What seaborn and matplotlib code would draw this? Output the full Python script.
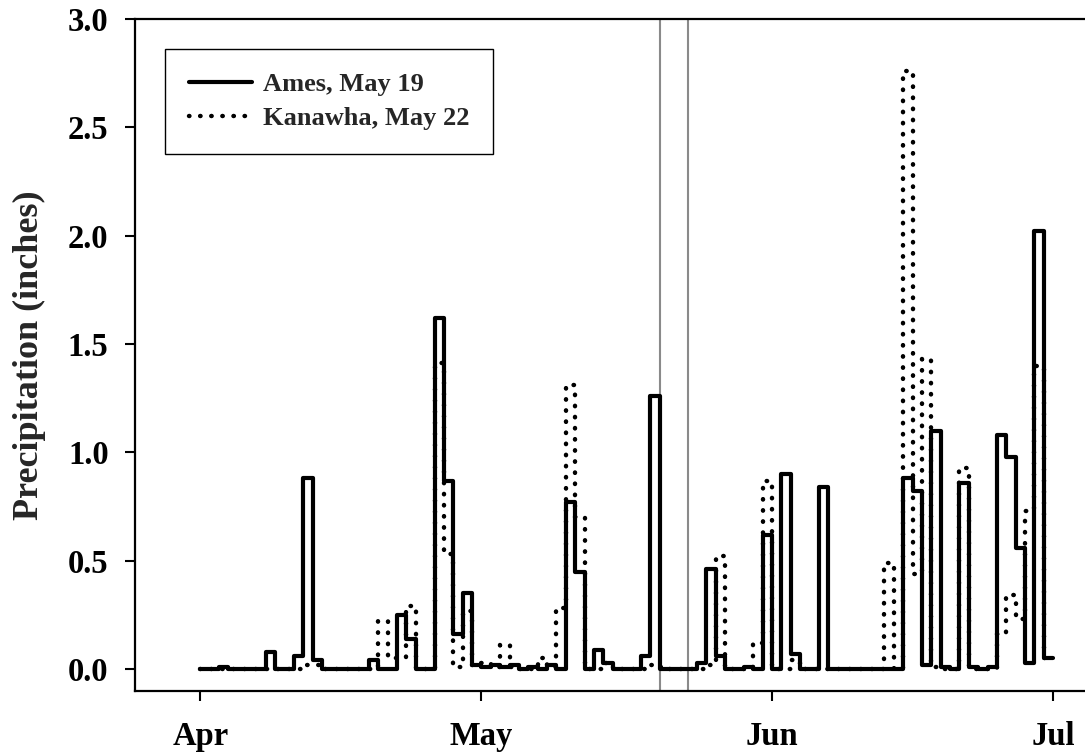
import pandas as pd
import seaborn as sns
import matplotlib.pyplot as plt
import matplotlib.dates as mdates

# Daily precipitation (inches), 1 Apr - 30 Jun
dates = pd.date_range('2008-04-01', '2008-06-30', freq='D')
ames = [0.00, 0.00, 0.01, 0.00, 0.00, 0.00, 0.00, 0.08, 0.00, 0.00,
        0.06, 0.88, 0.04, 0.00, 0.00, 0.00, 0.00, 0.00, 0.04, 0.00,
        0.00, 0.25, 0.14, 0.00, 0.00, 1.62, 0.87, 0.16, 0.35, 0.02,
        0.01, 0.02, 0.01, 0.02, 0.00, 0.01, 0.00, 0.02, 0.00, 0.77,
        0.45, 0.00, 0.09, 0.03, 0.00, 0.00, 0.00, 0.06, 1.26, 0.00,
        0.00, 0.00, 0.00, 0.03, 0.46, 0.06, 0.00, 0.00, 0.01, 0.00,
        0.62, 0.00, 0.90, 0.07, 0.00, 0.00, 0.84, 0.00, 0.00, 0.00,
        0.00, 0.00, 0.00, 0.00, 0.00, 0.88, 0.82, 0.02, 1.10, 0.01,
        0.00, 0.86, 0.01, 0.00, 0.01, 1.08, 0.98, 0.56, 0.03, 2.02,
        0.05]
kanawha = [0.00, 0.00, 0.00, 0.00, 0.00, 0.00, 0.00, 0.00, 0.00, 0.00,
           0.00, 0.02, 0.02, 0.00, 0.00, 0.00, 0.00, 0.00, 0.00, 0.22,
           0.05, 0.05, 0.29, 0.00, 0.00, 1.41, 0.53, 0.01, 0.27, 0.02,
           0.03, 0.01, 0.11, 0.01, 0.00, 0.00, 0.05, 0.01, 0.28, 1.31,
           0.70, 0.00, 0.00, 0.03, 0.00, 0.00, 0.00, 0.00, 0.02, 0.01,
           0.00, 0.00, 0.00, 0.00, 0.02, 0.52, 0.00, 0.00, 0.00, 0.12,
           0.87, 0.00, 0.00, 0.04, 0.00, 0.00, 0.00, 0.00, 0.00, 0.00,
           0.00, 0.00, 0.00, 0.49, 0.00, 2.76, 0.44, 1.43, 0.01, 0.00,
           0.00, 0.93, 0.00, 0.00, 0.00, 0.16, 0.34, 0.23, 0.73, 1.40,
           0.05]
sites = ['Ames, May 19', 'Kanawha, May 22']
planting = ['2008-05-19', '2008-05-22']
month_ticks = ['2008-04-01', '2008-05-01', '2008-06-01', '2008-07-01']

sns.set_style('ticks')
plt.rcParams['font.family'] = ['Liberation Serif', 'DejaVu Serif']
plt.rcParams['font.weight'] = 'bold'

# steps-post needs one extra point so the last day gets its full width
end = dates[-1] + pd.Timedelta(days=1)
df = pd.DataFrame({'date': list(dates) + [end],
                   'Ames': ames + [ames[-1]],
                   'Kanawha': kanawha + [kanawha[-1]]})

fig = plt.figure(figsize=(10.85, 7.56), dpi=100)
ax = fig.add_axes([0.1244, 0.0864, 0.8756, 0.8885])

sns.lineplot(data=df, x='date', y='Ames', ax=ax, color='black', lw=3,
             drawstyle='steps-post', label=sites[0], zorder=3)
sns.lineplot(data=df, x='date', y='Kanawha', ax=ax, color='black', lw=3.2,
             linestyle=(0, (0.1, 2.4)), dash_capstyle='round',
             drawstyle='steps-post', label=sites[1], zorder=2)

# planting dates, drawn at the end of the day
for p in planting:
    ax.axvline(pd.Timestamp(p) + pd.Timedelta(days=1), color='#8a8a8a', lw=1.5, zorder=1)

start = pd.Timestamp(month_ticks[0])
ax.set_xlim(start - pd.Timedelta(days=6.97), start + pd.Timedelta(days=94.4))
ax.set_ylim(-0.1, 3.0)
ax.set_xticks(pd.to_datetime(month_ticks))
ax.xaxis.set_major_formatter(mdates.DateFormatter('%b'))
ax.set_yticks([0.0, 0.5, 1.0, 1.5, 2.0, 2.5, 3.0])
ax.set_yticklabels(['0.0', '0.5', '1.0', '1.5', '2.0', '2.5', '3.0'])

ax.set_xlabel('')
ax.set_ylabel('Precipitation (inches)', fontsize=26, fontweight='bold', labelpad=16)
ax.tick_params(axis='both', direction='out', length=7, width=1.5,
               labelsize=23.5, colors='black')
ax.tick_params(axis='x', pad=15)
ax.tick_params(axis='y', pad=12)

for side in ['left', 'bottom', 'top']:
    ax.spines[side].set_linewidth(1.6)
    ax.spines[side].set_color('black')
ax.spines['right'].set_visible(False)

leg = ax.legend(loc='upper left', bbox_to_anchor=(0.032, 0.956), fancybox=False,
                edgecolor='black', framealpha=1, fontsize=19, handlelength=2.4,
                handletextpad=0.4, borderpad=0.9, labelspacing=0.4, borderaxespad=0)
leg.get_frame().set_linewidth(1.0)

fig.savefig('out.png', dpi=100)
